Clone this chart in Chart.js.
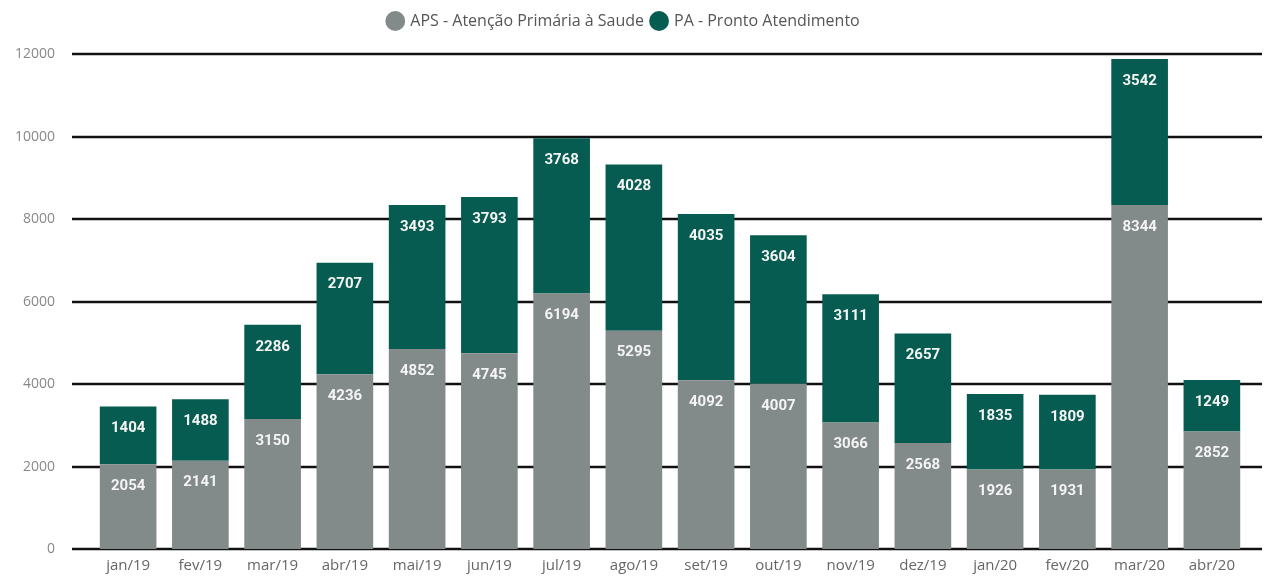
<!DOCTYPE html>
<html>
<head>
<meta charset="utf-8">
<script src="https://cdn.jsdelivr.net/npm/chart.js@4"></script>
<style>
  html, body { margin: 0; padding: 0; background: #fff; }
  #wrap { width: 1268px; height: 576px; }
</style>
</head>
<body>
<div id="wrap"><canvas id="chart"></canvas></div>
<script>
const meses = ["jan/19", "fev/19", "mar/19", "abr/19", "mai/19", "jun/19", "jul/19", "ago/19",
  "set/19", "out/19", "nov/19", "dez/19", "jan/20", "fev/20", "mar/20", "abr/20"];
const aps = [2054, 2141, 3150, 4236, 4852, 4745, 6194, 5295, 4092, 4007, 3066, 2568, 1926, 1931, 8344, 2852];
const pa = [1404, 1488, 2286, 2707, 3493, 3793, 3768, 4028, 4035, 3604, 3111, 2657, 1835, 1809, 3542, 1249];
const yTicks = [0, 2000, 4000, 6000, 8000, 10000, 12000];

// linhas de grade pretas que passam um pouco das barras
const gradePlugin = {
  id: "grade",
  beforeDatasetsDraw(chart) {
    const { ctx, chartArea, scales } = chart;
    ctx.save();
    ctx.strokeStyle = "#111";
    ctx.lineWidth = 2.5;
    yTicks.forEach(function (v) {
      const y = Math.round(scales.y.getPixelForValue(v));
      ctx.beginPath();
      ctx.moveTo(chartArea.left - 20, y);
      ctx.lineTo(chartArea.right + 14, y);
      ctx.stroke();
    });
    ctx.restore();
  },
};

// rótulos brancos no topo de cada segmento
const rotulosPlugin = {
  id: "rotulos",
  afterDatasetsDraw(chart) {
    const ctx = chart.ctx;
    ctx.save();
    ctx.font = "bold 15px Roboto";
    ctx.fillStyle = "#f4f4f4";
    ctx.textAlign = "center";
    ctx.textBaseline = "middle";
    chart.data.datasets.forEach(function (ds, i) {
      chart.getDatasetMeta(i).data.forEach(function (bar, j) {
        ctx.fillText(String(ds.data[j]), bar.x, bar.y + 22);
      });
    });
    ctx.restore();
  },
};

new Chart(document.getElementById("chart").getContext("2d"), {
  type: "bar",
  data: {
    labels: meses,
    datasets: [
      {
        label: "APS - Atenção Primária à Saude",
        data: aps,
        backgroundColor: "#828a8a",
        borderWidth: 0,
        categoryPercentage: 0.8,
        barPercentage: 0.98,
      },
      {
        label: "PA - Pronto Atendimento",
        data: pa,
        backgroundColor: "#075c51",
        borderWidth: 0,
        categoryPercentage: 0.8,
        barPercentage: 0.98,
      },
    ],
  },
  options: {
    responsive: true,
    maintainAspectRatio: false,
    animation: false,
    layout: { autoPadding: false, padding: { left: 0, right: 20, top: 5, bottom: 0 } },
    plugins: {
      legend: {
        position: "top",
        weight: 2000,
        labels: {
          usePointStyle: true,
          pointStyle: "circle",
          boxWidth: 14,
          boxHeight: 14,
          padding: 8,
          color: "#555",
          font: { family: "'Open Sans'", size: 16 },
        },
      },
      // espaço entre a legenda e a área do gráfico
      subtitle: {
        display: true,
        text: " ",
        font: { size: 1 },
        padding: { top: 0, bottom: 14 },
      },
      tooltip: { enabled: false },
    },
    scales: {
      x: {
        stacked: true,
        grid: { display: false, drawTicks: false },
        border: { display: false },
        ticks: { color: "#666", font: { family: "'Open Sans'", size: 15 }, padding: 8 },
        afterFit(scale) { scale.height = 27; },
      },
      y: {
        stacked: true,
        min: 0,
        max: 12000,
        grid: { display: false, drawTicks: true, tickLength: 37 },
        border: { display: false },
        ticks: {
          stepSize: 2000,
          color: "#888",
          font: { family: "'Open Sans'", size: 14 },
          padding: 0,
          callback: function (v) { return String(v); },
        },
        afterFit(scale) { scale.width = 92; },
      },
    },
  },
  plugins: [gradePlugin, rotulosPlugin],
});
</script>
</body>
</html>
